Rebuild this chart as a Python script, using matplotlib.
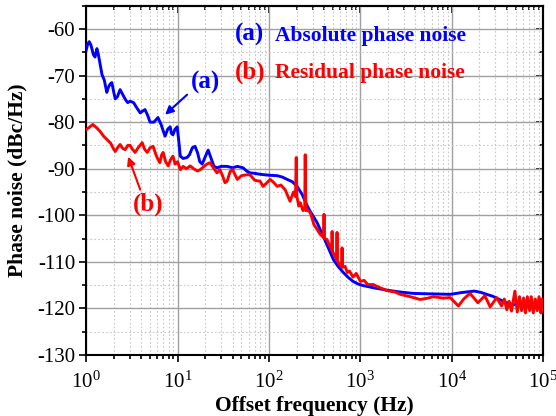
import numpy as np
import matplotlib
matplotlib.use('Agg')
import matplotlib.pyplot as plt
from matplotlib.ticker import LogLocator, MultipleLocator, FixedLocator, NullFormatter

plt.rcParams['font.family'] = ['Liberation Serif', 'DejaVu Serif']
plt.rcParams['mathtext.fontset'] = 'custom'
plt.rcParams['mathtext.rm'] = 'Liberation Serif'
plt.rcParams['axes.unicode_minus'] = False

## (a) absolute phase noise: (offset Hz, dBc/Hz)
abs_pts = [
    (1.0, -64.5), (1.04, -63.2), (1.08, -62.7), (1.13, -63.5), (1.2, -65.5), (1.25, -66.0),
    (1.31, -64.2), (1.36, -65.5), (1.42, -67.5), (1.49, -69.8), (1.58, -71.0), (1.68, -73.6),
    (1.75, -72.5), (1.83, -71.8), (1.91, -71.5), (2.0, -73.5), (2.08, -75.0), (2.2, -74.5),
    (2.35, -73.0), (2.5, -74.0), (2.7, -75.2), (2.85, -75.8), (3.03, -75.5), (3.3, -75.8),
    (3.6, -77.0), (3.9, -78.0), (4.15, -77.6), (4.4, -77.3), (4.7, -78.5), (5.0, -80.0),
    (5.5, -80.0), (6.1, -79.0), (6.6, -80.5), (7.0, -82.0), (7.3, -83.0), (7.8, -81.5),
    (8.3, -81.0), (8.6, -82.5), (8.9, -82.7), (9.4, -81.5), (9.9, -81.0), (10.3, -84.0),
    (10.7, -87.3), (11.5, -87.8), (12.7, -87.6), (13.5, -87.0), (14.5, -85.5), (15.5, -85.2),
    (16.5, -86.5), (17.5, -88.5), (18.6, -89.0), (20, -87.5), (21.6, -86.0), (23, -87.5),
    (25, -89.5), (27, -89.8), (30, -89.5), (34.8, -89.5), (40, -89.8), (45, -89.5),
    (52, -89.8), (57, -90.5), (62, -90.9), (70, -91.0), (80, -91.2), (100, -91.4),
    (123, -91.5), (140, -91.8), (158, -92.3), (180, -92.8), (203, -93.8), (230, -95.5),
    (262, -98.0), (283, -99.2), (300, -100.0), (336, -101.6), (392, -104.5), (450, -107.2),
    (506, -109.5), (570, -111.0), (650, -112.3), (740, -113.4), (830, -114.2), (950, -114.8),
    (1070, -115.1), (1400, -115.6), (1960, -116.1), (2730, -116.5), (3800, -116.8),
    (6000, -116.9), (9600, -117.0), (13000, -116.6), (17700, -116.3), (21000, -116.6),
    (24000, -117.0), (28000, -117.4), (34000, -118.2), (40000, -118.8), (47000, -119.2),
    (60000, -119.3), (78000, -119.2), (100000, -119.0),
]

## (b) residual phase noise
res_pts = [
    (1.0, -81.6), (1.1, -81.0), (1.18, -80.5), (1.3, -81.2), (1.42, -82.0), (1.55, -83.0),
    (1.68, -83.7), (1.85, -84.5), (2.0, -85.8), (2.08, -86.3), (2.2, -85.5), (2.35, -84.8),
    (2.5, -85.6), (2.67, -85.9), (2.85, -85.0), (3.03, -85.0), (3.2, -85.8), (3.43, -86.5),
    (3.7, -85.5), (4.1, -84.4), (4.35, -85.8), (4.65, -86.5), (5.0, -85.5), (5.4, -85.2),
    (5.8, -87.0), (6.1, -88.0), (6.4, -88.7), (6.7, -87.0), (6.95, -86.5), (7.4, -88.5),
    (7.9, -89.4), (8.4, -88.0), (8.9, -87.3), (9.4, -89.0), (10.0, -88.5), (10.7, -90.2),
    (11.5, -89.5), (12.5, -90.0), (13.7, -89.4), (15.0, -90.0), (16.5, -90.5), (17.7, -90.2),
    (19.5, -89.5), (21, -89.0), (22.7, -88.7), (25, -90.0), (27, -90.9), (29, -90.2),
    (31, -91.5), (33, -93.0), (34.8, -92.7), (37.6, -90.6), (40, -90.2), (45, -92.3),
    (50, -91.5), (57, -91.3), (62, -91.3), (70, -92.5), (80, -92.7), (86, -93.8),
    (95, -93.0), (103, -92.3), (113, -93.0), (123, -93.8), (135, -93.5), (150, -94.5),
    (170, -97.0), (185, -95.0), (195, -96.0), (198.6, -87.6), (202, -96.0), (212, -98.0),
    (220, -97.3), (235, -99.0), (246, -98.5), (249, -87.0), (253, -99.0), (262, -98.8),
    (283, -99.4), (310, -102.0), (335, -103.0), (360, -104.0), (395, -104.8), (400, -99.8),
    (405, -105.0), (430, -105.2), (460, -106.5), (488, -107.5), (490, -103.5), (495, -107.8),
    (520, -108.5), (550, -109.5), (555, -103.7), (560, -109.8), (590, -110.5), (625, -111.0),
    (630, -107.0), (635, -111.2), (680, -111.0), (720, -112.3), (760, -112.0), (830, -113.3),
    (900, -112.5), (1000, -114.2), (1100, -114.0), (1200, -114.9), (1390, -114.9),
    (1520, -115.3), (1960, -116.2), (2400, -116.5), (2730, -117.0), (3500, -117.5),
    (4500, -118.1), (5500, -117.8), (6300, -117.5), (8000, -117.8), (9600, -117.7),
    (11800, -119.5), (13500, -118.0), (15800, -116.8), (17500, -117.8), (19300, -118.8),
    (23000, -117.3), (26300, -119.7), (31000, -117.7), (35000, -119.5), (37500, -118.0),
    (40000, -120.3), (42500, -118.5), (45000, -120.6), (49000, -116.3), (52000, -120.8),
    (55000, -117.5), (58000, -120.5), (61000, -117.8), (64000, -121.0), (67000, -117.5),
    (71000, -120.5), (74000, -117.5), (78000, -121.0), (82000, -118.0), (86000, -120.5),
    (90000, -117.5), (94000, -121.0), (97000, -118.0), (100000, -120.5),
]

freq_a, pn_a = zip(*abs_pts)
freq_b, pn_b = zip(*res_pts)

yticks = np.arange(-130, -55, 10)

fig = plt.figure(figsize=(5.56, 4.16), dpi=100)
ax = fig.add_axes([0.155, 0.147, 0.822, 0.839])

ax.plot(freq_a, pn_a, color='#0000ff', lw=2.1, zorder=3)
ax.plot(freq_b, pn_b, color='#ff0000', lw=2.1, zorder=4)

ax.set_xscale('log')
ax.set_xlim(1, 1e5)
ax.set_ylim(-130, -55)

ax.xaxis.set_major_locator(LogLocator(base=10, numticks=10))
ax.xaxis.set_minor_locator(LogLocator(base=10, subs=np.arange(2, 10), numticks=20))
ax.xaxis.set_minor_formatter(NullFormatter())
ax.yaxis.set_major_locator(FixedLocator(yticks))
ax.yaxis.set_minor_locator(MultipleLocator(5))

ax.grid(which='major', color='#a0a0a0', lw=1.0, ls='-', zorder=0)
ax.grid(which='minor', color='#c8c8c8', lw=0.8, ls=(0, (1.5, 2)), zorder=0)

ax.tick_params(which='both', direction='out', labelsize=15, width=1.2, colors='black')
ax.tick_params(which='major', length=5)
ax.tick_params(which='minor', length=3)
ax.tick_params(axis='x', pad=7)
ax.tick_params(axis='y', pad=3)

# mirrored ticks on top/right, pointing inwards
ax2 = ax.secondary_xaxis('top')
ax2.xaxis.set_major_locator(LogLocator(base=10, numticks=10))
ax2.xaxis.set_minor_locator(LogLocator(base=10, subs=np.arange(2, 10), numticks=20))
ax2.tick_params(which='both', direction='in', labeltop=False, width=1.2)
ax2.tick_params(which='major', length=5)
ax2.tick_params(which='minor', length=3)
ax3 = ax.secondary_yaxis('right')
ax3.yaxis.set_major_locator(FixedLocator(yticks))
ax3.yaxis.set_minor_locator(MultipleLocator(5))
ax3.tick_params(which='both', direction='in', labelright=False, width=1.2)
ax3.tick_params(which='major', length=5)
ax3.tick_params(which='minor', length=3)

for s in ax.spines.values():
    s.set_linewidth(1.5)
ax2.spines['top'].set_linewidth(1.5)
ax3.spines['right'].set_linewidth(1.5)

ax.set_xlabel('Offset frequency (Hz)', fontsize=15.5, fontweight='bold')
ax.xaxis.set_label_coords(0.5, -0.118)
ax.set_ylabel('Phase noise (dBc/Hz)', fontsize=15.5, fontweight='bold')
ax.yaxis.set_label_coords(-0.128, 0.5)

# legend-like labels
ax.text(0.326, 0.917, '(a)', transform=ax.transAxes, color='#0000ff', fontsize=18,
        fontweight='bold', va='center', ha='left')
ax.text(0.414, 0.914, 'Absolute phase noise', transform=ax.transAxes, color='#0000ff',
        fontsize=15.5, fontweight='bold', va='center', ha='left')
ax.text(0.326, 0.811, '(b)', transform=ax.transAxes, color='#ff0000', fontsize=18,
        fontweight='bold', va='center', ha='left')
ax.text(0.414, 0.808, 'Residual phase noise', transform=ax.transAxes, color='#ff0000',
        fontsize=15.5, fontweight='bold', va='center', ha='left')

# labels with arrows to the curves
ax.text(20, -71.5, '(a)', color='#0000ff', fontsize=18, fontweight='bold',
        ha='center', va='center')
ax.annotate('', xy=(7.3, -78.4), xytext=(12.7, -74.1),
            arrowprops=dict(arrowstyle='-|>', color='#0000ff', lw=1.5, mutation_scale=12,
                            shrinkA=0, shrinkB=0))
ax.text(4.77, -97.7, '(b)', color='#ff0000', fontsize=18, fontweight='bold',
        ha='center', va='center')
ax.annotate('', xy=(2.88, -87.4), xytext=(3.9, -94.5),
            arrowprops=dict(arrowstyle='-|>', color='#ff0000', lw=1.5, mutation_scale=12,
                            shrinkA=0, shrinkB=0))

fig.savefig('out.png', dpi=100)
